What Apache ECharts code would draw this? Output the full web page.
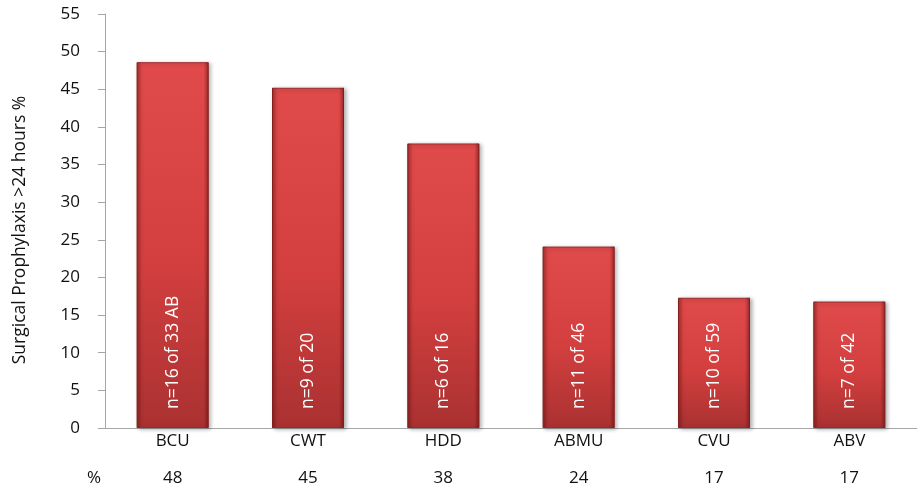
<!DOCTYPE html>
<html>
<head>
<meta charset="utf-8">
<script src="https://cdn.jsdelivr.net/npm/echarts@6/dist/echarts.min.js"></script>
<style>
  html, body { margin: 0; padding: 0; background: #fff; }
  #chart { width: 917px; height: 493px; }
</style>
</head>
<body>
<div id="chart"></div>
<script>
const categories = ['BCU', 'CWT', 'HDD', 'ABMU', 'CVU', 'ABV'];
const values = [48.6, 45.2, 37.8, 24.1, 17.3, 16.8];
const barLabels = ['n=16 of 33 AB', 'n=9 of 20', 'n=6 of 16', 'n=11 of 46', 'n=10 of 59', 'n=7 of 42'];
const percentLabels = ['48', '45', '38', '24', '17', '17'];

var font = '"Open Sans", sans-serif';
var chart = echarts.init(document.getElementById('chart'));

var option = {
    animation: false,
    grid: { left: 105, right: 0, top: 14, bottom: 65 },
    xAxis: [
        {
            type: 'category',
            data: categories,
            axisLine: { lineStyle: { color: '#a6a6a6', width: 1 } },
            axisTick: { show: false },
            axisLabel: { color: '#111', fontSize: 17, fontFamily: font, margin: 5 }
        },
        {
            type: 'category',
            position: 'bottom',
            offset: 37,
            data: percentLabels,
            name: '%',
            nameLocation: 'start',
            nameGap: 4,
            nameTextStyle: { color: '#111', fontSize: 17, fontFamily: font, verticalAlign: 'top', padding: [5, 0, 0, 0] },
            axisLine: { show: false },
            axisTick: { show: false },
            axisLabel: { color: '#111', fontSize: 17, fontFamily: font, margin: 5 }
        }
    ],
    yAxis: {
        type: 'value',
        min: 0,
        max: 55,
        interval: 5,
        name: 'Surgical Prophylaxis >24 hours %',
        nameLocation: 'middle',
        nameGap: 76,
        nameTextStyle: { color: '#111', fontSize: 17.5, fontFamily: font, padding: [0, 18, 0, 0] },
        axisLine: { show: true, lineStyle: { color: '#a6a6a6' } },
        axisTick: { show: true, length: 7, lineStyle: { color: '#a6a6a6' } },
        splitLine: { show: false },
        axisLabel: { color: '#111', fontSize: 17, fontFamily: font, margin: 25 }
    },
    series: [
        {
            type: 'bar',
            xAxisIndex: 0,
            barWidth: 72,
            data: values,
            itemStyle: {
                color: {
                    type: 'linear', x: 0, y: 0, x2: 0, y2: 1,
                    colorStops: [
                        { offset: 0, color: '#e04a4a' },
                        { offset: 0.55, color: '#d33f3f' },
                        { offset: 1, color: '#aa3131' }
                    ]
                },
                borderColor: '#9e2c2c',
                borderWidth: 1,
                shadowColor: 'rgba(0,0,0,0.3)',
                shadowBlur: 4,
                shadowOffsetX: 2,
                shadowOffsetY: 1
            }
        },
        {
            // edge shading of the bevel, drawn over the same bars
            type: 'bar',
            xAxisIndex: 0,
            barWidth: 72,
            barGap: '-100%',
            silent: true,
            data: values.map(function (v, i) {
                return { value: v, label: { formatter: barLabels[i] } };
            }),
            itemStyle: {
                color: {
                    type: 'linear', x: 0, y: 0, x2: 1, y2: 0,
                    colorStops: [
                        { offset: 0, color: 'rgba(90,10,10,0.45)' },
                        { offset: 0.07, color: 'rgba(90,10,10,0)' },
                        { offset: 0.93, color: 'rgba(90,10,10,0)' },
                        { offset: 1, color: 'rgba(90,10,10,0.5)' }
                    ]
                }
            },
            label: {
                show: true,
                position: 'insideBottom',
                rotate: 90,
                align: 'left',
                verticalAlign: 'middle',
                distance: 15,
                offset: [4, 0],
                color: '#fff',
                fontSize: 17.5,
                fontFamily: font
            }
        }
    ]
};

chart.setOption(option);
</script>
</body>
</html>
